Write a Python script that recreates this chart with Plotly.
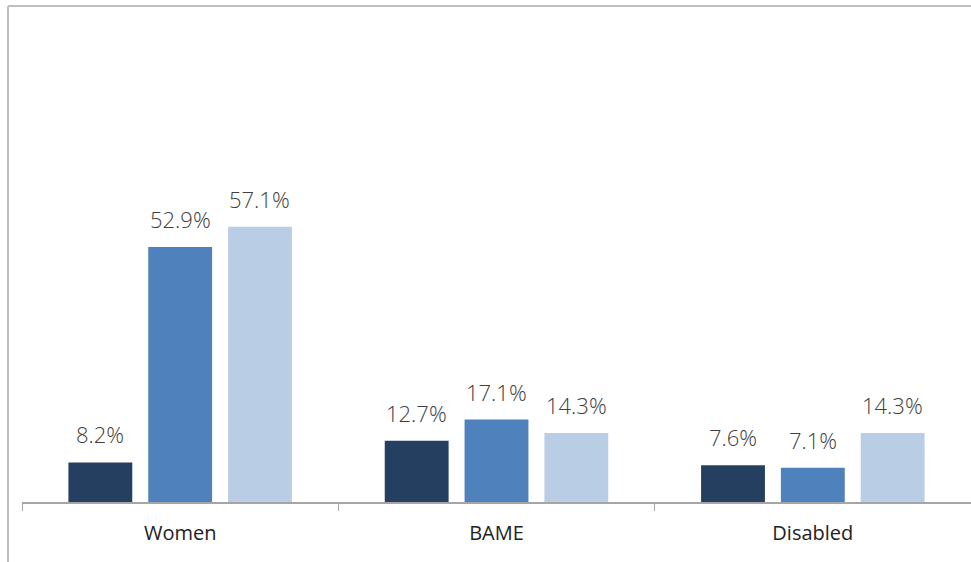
import plotly.graph_objects as go

categories = ["Women", "BAME", "Disabled"]
series_names = ["Series A", "Series B", "Series C"]
series_values = [
    [8.2, 12.7, 7.6],
    [52.9, 17.1, 7.1],
    [57.1, 14.3, 14.3],
]
colors = ["#253f61", "#4f81bd", "#b9cde5"]

W, H = 971, 562
ml, mr, mt, mb = 22, 0, 20, 60
ph = H - mt - mb
pw = W - ml - mr
slot_px = (pw / len(categories)) * (1 - 0.243) / len(series_names)

fig = go.Figure()
annotations = []
for i, (name, vals, col) in enumerate(zip(series_names, series_values, colors)):
    fig.add_trace(go.Bar(
        x=categories, y=vals, name=name,
        marker=dict(color=col, line=dict(width=0)),
        cliponaxis=False,
    ))
    for c, v in zip(categories, vals):
        annotations.append(dict(
            x=c, y=v, xref="x", yref="y",
            text=f"{v:.1f}%", showarrow=False,
            xanchor="center", yanchor="bottom",
            xshift=(i - 1) * slot_px, yshift=11,
            font=dict(family="Open Sans", size=22, color="#404040", weight=300),
        ))

def px_x(p):
    return (p - ml) / pw

def px_y(p):
    return (H - mb - p) / ph

fig.update_layout(
    width=W, height=H,
    margin=dict(l=ml, r=mr, t=mt, b=mb, pad=0),
    paper_bgcolor="white", plot_bgcolor="white",
    barmode="group", bargap=0.243, bargroupgap=0.2,
    showlegend=False,
    annotations=annotations,
    xaxis=dict(
        showline=True, linecolor="#a6a6a6", linewidth=1.5,
        ticks="outside", tickson="boundaries", ticklen=7, tickcolor="#a6a6a6", tickwidth=1,
        tickfont=dict(family="Open Sans", size=20, color="#222222"),
        ticklabelstandoff=12,
        showgrid=False, zeroline=False, fixedrange=True,
    ),
    yaxis=dict(
        range=[0, 100], visible=False, showgrid=False, zeroline=False,
    ),
    shapes=[
        dict(type="line", xref="paper", yref="paper",
             x0=px_x(8), x1=px_x(8), y0=px_y(6), y1=px_y(H + 5),
             line=dict(color="#bfbfbf", width=2)),
        dict(type="line", xref="paper", yref="paper",
             x0=px_x(8), x1=px_x(W + 5), y0=px_y(6), y1=px_y(6),
             line=dict(color="#bfbfbf", width=2)),
    ],
)

fig.write_html("out.html")
